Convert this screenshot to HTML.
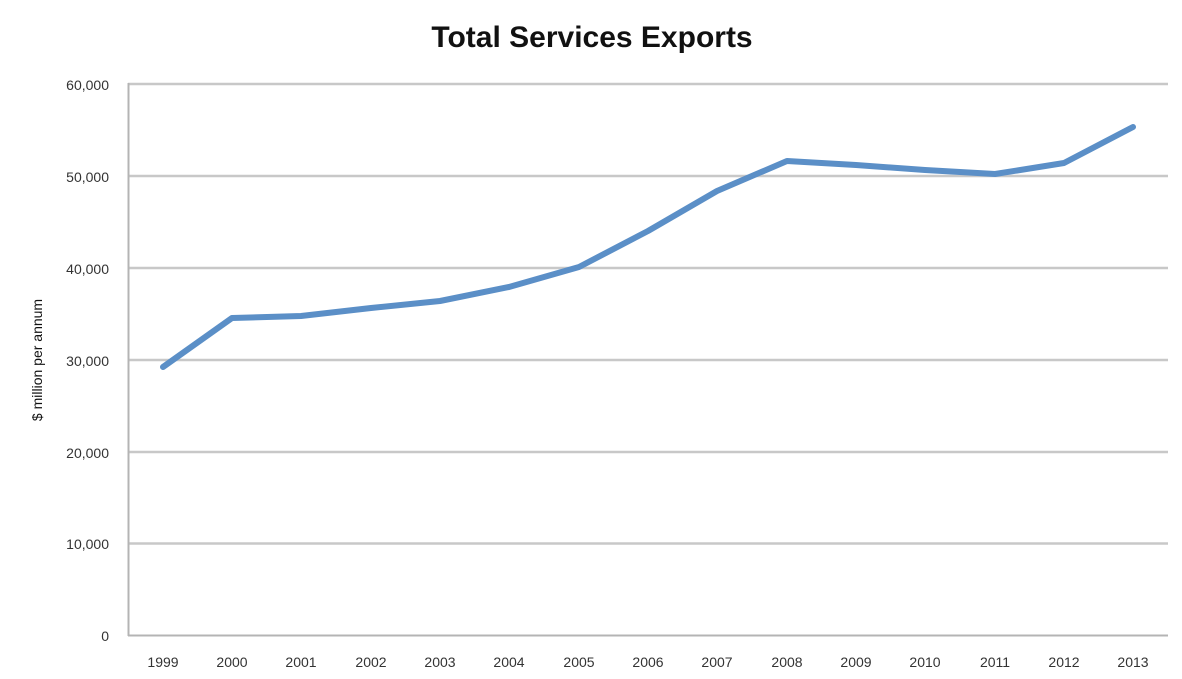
<!DOCTYPE html>
<html><head><style>body{margin:0;background:#fff}</style></head><body>
<svg width="1182" height="674" viewBox="0 0 1182 674" xmlns="http://www.w3.org/2000/svg" font-family="Liberation Sans, sans-serif">
<rect width="1182" height="674" fill="#fff"/>
<text x="592" y="47" text-anchor="middle" font-size="30" font-weight="bold" fill="#111">Total Services Exports</text>
<g stroke="#c8c8c8" stroke-width="2.5">
<line x1="128" y1="84" x2="1168" y2="84"/>
<line x1="128" y1="176" x2="1168" y2="176"/>
<line x1="128" y1="268" x2="1168" y2="268"/>
<line x1="128" y1="360" x2="1168" y2="360"/>
<line x1="128" y1="452" x2="1168" y2="452"/>
<line x1="128" y1="543.5" x2="1168" y2="543.5"/>
</g>
<g stroke="#b4b4b4" stroke-width="2">
<line x1="128.5" y1="83" x2="128.5" y2="636"/>
<line x1="128" y1="635.5" x2="1168" y2="635.5"/>
</g>
<g font-size="14" fill="#333" text-anchor="end">
<text x="109" y="90">60,000</text>
<text x="109" y="182">50,000</text>
<text x="109" y="274">40,000</text>
<text x="109" y="366">30,000</text>
<text x="109" y="458">20,000</text>
<text x="109" y="549">10,000</text>
<text x="109" y="641">0</text>
</g>
<g font-size="14" fill="#333" text-anchor="middle">
<text x="163" y="667">1999</text><text x="232" y="667">2000</text><text x="301" y="667">2001</text><text x="371" y="667">2002</text><text x="440" y="667">2003</text><text x="509" y="667">2004</text><text x="579" y="667">2005</text><text x="648" y="667">2006</text><text x="717" y="667">2007</text><text x="787" y="667">2008</text><text x="856" y="667">2009</text><text x="925" y="667">2010</text><text x="995" y="667">2011</text><text x="1064" y="667">2012</text><text x="1133" y="667">2013</text>
</g>
<text transform="translate(42,360) rotate(-90)" text-anchor="middle" font-size="14" fill="#111">$ million per annum</text>
<polyline fill="none" stroke="#5b8fc7" stroke-width="6" stroke-linejoin="round" stroke-linecap="round"
points="163,367 232,318 301,316 371,308 440,301 509,287 579,267 648,231 717,191 787,161 856,165 925,170 995,174 1064,163 1133,127"/>
</svg>
</body></html>
